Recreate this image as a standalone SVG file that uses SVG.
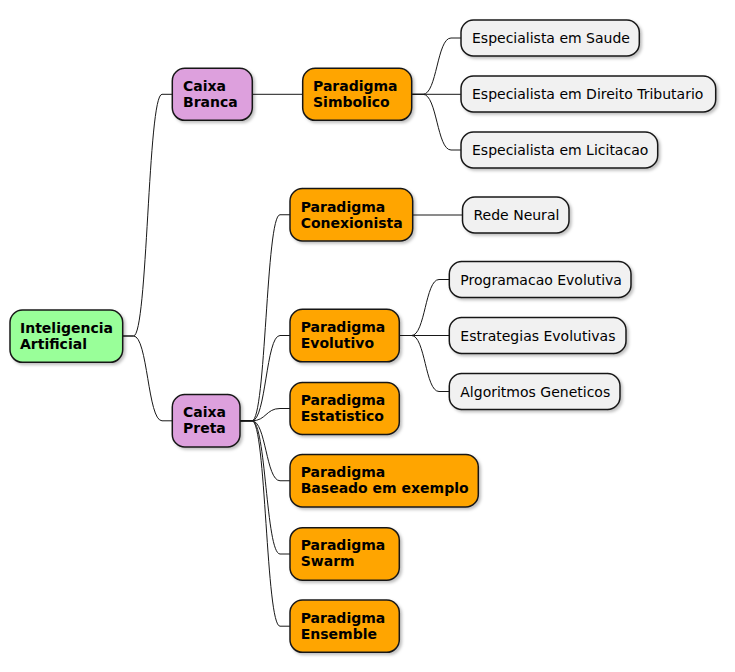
<svg xmlns="http://www.w3.org/2000/svg" width="735" height="672" viewBox="0 0 735 672">
<defs>
<filter id="sh" x="-10%" y="-10%" width="130%" height="140%">
<feDropShadow dx="2" dy="2" stdDeviation="1.5" flood-color="#000" flood-opacity="0.25"/>
</filter>
</defs>
<style>
.n rect{stroke:#181818;stroke-width:1.5;filter:url(#sh)}
.root rect{fill:#99FF99}
.cx rect{fill:#DDA0DD}
.pd rect{fill:#FFA500}
.lf rect{fill:#F1F1F1}
text{font-family:"DejaVu Sans","Noto Sans",sans-serif;font-size:14px;fill:#000}
.b text{font-weight:bold}
#connectors path{fill:none;stroke:#181818;stroke-width:1}
</style>
<rect width="735" height="672" fill="#FFFFFF"/>
<g id="connectors">
<path d="M123,336 L133.5,336 C147.75,336 147.75,94.3 162,94.3 L172.3,94.3"/>
<path d="M123,336 L133.5,336 C147.75,336 147.75,420.8 162,420.8 L172.3,420.8"/>
<path d="M252.3,94.3 L302.7,94.3"/>
<path d="M411.7,94.3 L423,94.3 C437,94.3 437,38 451,38 L461,38"/>
<path d="M411.7,94.3 L461,94.3"/>
<path d="M411.7,94.3 L423,94.3 C437,94.3 437,150 451,150 L461,150"/>
<path d="M240,420.8 L252,420.8 C266,420.8 266,214.75 280,214.75 L290,214.75"/>
<path d="M240,420.8 L252,420.8 C266,420.8 266,335.5 280,335.5 L290,335.5"/>
<path d="M240,420.8 L252,420.8 C266,420.8 266,408.5 280,408.5 L290,408.5"/>
<path d="M240,420.8 L252,420.8 C266,420.8 266,480.75 280,480.75 L290,480.75"/>
<path d="M240,420.8 L252,420.8 C266,420.8 266,554 280,554 L290,554"/>
<path d="M240,420.8 L252,420.8 C266,420.8 266,626.2 280,626.2 L290,626.2"/>
<path d="M412.7,215 L462.5,215"/>
<path d="M399.3,335.5 L411.5,335.5 C425.25,335.5 425.25,279.5 439,279.5 L449.3,279.5"/>
<path d="M399.3,335.5 L449.3,335.5"/>
<path d="M399.3,335.5 L411.5,335.5 C425.25,335.5 425.25,391.5 439,391.5 L449.3,391.5"/>
</g>
<g id="n-root" class="n root b"><rect x="10" y="310" width="112.7" height="52.3" rx="12.5"/><text x="20" y="333">Inteligencia</text><text x="20" y="349">Artificial</text></g>
<g id="n-branca" class="n cx b"><rect x="172.3" y="68.3" width="80" height="52" rx="12.5"/><text x="183" y="91">Caixa</text><text x="183" y="107">Branca</text></g>
<g id="n-preta" class="n cx b"><rect x="172.3" y="394.5" width="67.7" height="52.5" rx="12.5"/><text x="183" y="417">Caixa</text><text x="183" y="433.3">Preta</text></g>
<g id="n-simbolico" class="n pd b"><rect x="302.7" y="68.3" width="109" height="52" rx="12.5"/><text x="313" y="91">Paradigma</text><text x="313" y="107">Simbolico</text></g>
<g id="n-saude" class="n lf"><rect x="461" y="20" width="178.3" height="36" rx="12.5"/><text x="472" y="43.3">Especialista em Saude</text></g>
<g id="n-direito" class="n lf"><rect x="461" y="76" width="254.7" height="36" rx="12.5"/><text x="472" y="99.3">Especialista em Direito Tributario</text></g>
<g id="n-licitacao" class="n lf"><rect x="461" y="132" width="196.7" height="36" rx="12.5"/><text x="472" y="155.3">Especialista em Licitacao</text></g>
<g id="n-conexionista" class="n pd b"><rect x="290" y="188.5" width="122.7" height="52.5" rx="12.5"/><text x="300.7" y="211.5">Paradigma</text><text x="300.7" y="227.5">Conexionista</text></g>
<g id="n-rede" class="n lf"><rect x="462.5" y="197" width="106.5" height="36" rx="12.5"/><text x="473.5" y="220.3">Rede Neural</text></g>
<g id="n-evolutivo" class="n pd b"><rect x="290" y="309.3" width="109.3" height="52.5" rx="12.5"/><text x="300.7" y="332.3">Paradigma</text><text x="300.7" y="348">Evolutivo</text></g>
<g id="n-prog" class="n lf"><rect x="449.3" y="261.5" width="181.7" height="36" rx="12.5"/><text x="460.3" y="284.8">Programacao Evolutiva</text></g>
<g id="n-estrat" class="n lf"><rect x="449.3" y="317.5" width="176.7" height="36" rx="12.5"/><text x="460.3" y="340.8">Estrategias Evolutivas</text></g>
<g id="n-algo" class="n lf"><rect x="449.3" y="373.5" width="170.7" height="36" rx="12.5"/><text x="460.3" y="396.8">Algoritmos Geneticos</text></g>
<g id="n-estatistico" class="n pd b"><rect x="290" y="382.5" width="109.3" height="52" rx="12.5"/><text x="300.7" y="405">Paradigma</text><text x="300.7" y="421">Estatistico</text></g>
<g id="n-baseado" class="n pd b"><rect x="290" y="454.5" width="188.3" height="52.5" rx="12.5"/><text x="300.7" y="477.3">Paradigma</text><text x="300.7" y="493.3">Baseado em exemplo</text></g>
<g id="n-swarm" class="n pd b"><rect x="290" y="527.7" width="109.3" height="52.5" rx="12.5"/><text x="300.7" y="550.3">Paradigma</text><text x="300.7" y="566.3">Swarm</text></g>
<g id="n-ensemble" class="n pd b"><rect x="290" y="600" width="109.3" height="52.3" rx="12.5"/><text x="300.7" y="623">Paradigma</text><text x="300.7" y="639">Ensemble</text></g>
</svg>
